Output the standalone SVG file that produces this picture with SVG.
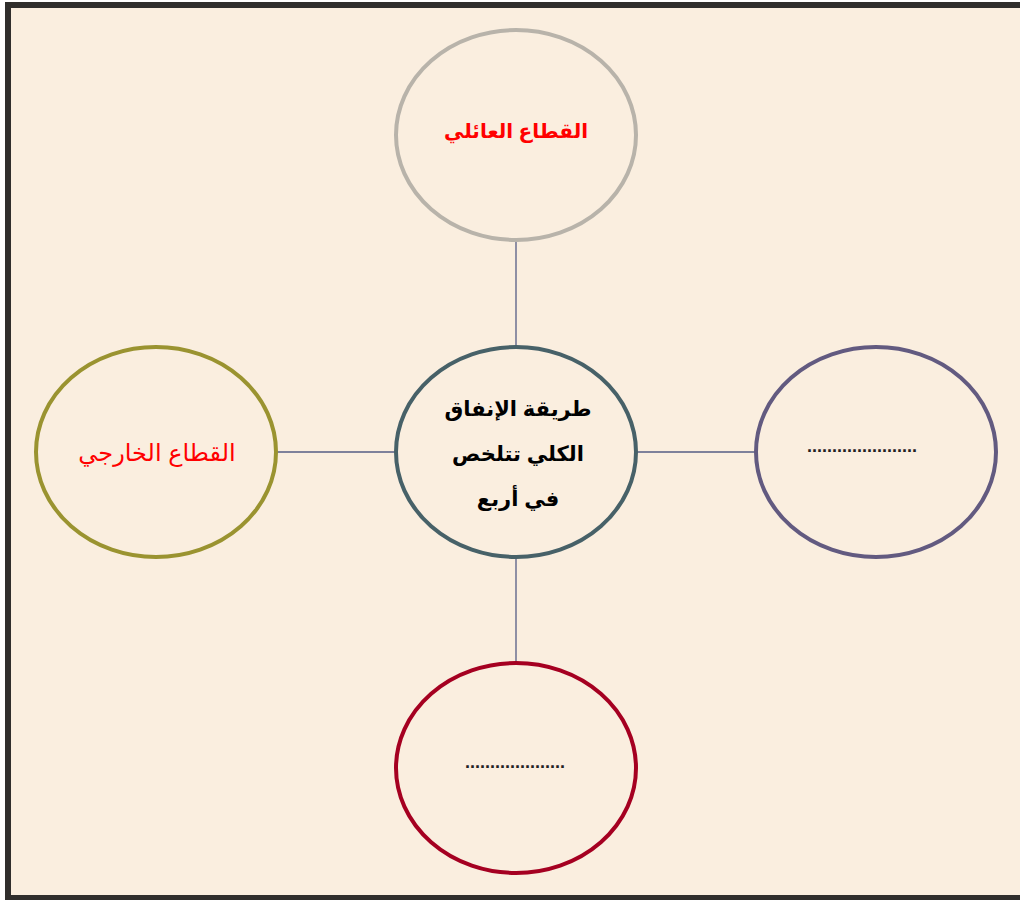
<svg xmlns="http://www.w3.org/2000/svg" width="1020" height="900" viewBox="0 0 1020 900">
<style>
.n{fill:none;stroke-width:4}
.c{stroke:#555C85;stroke-width:1.3;fill:none}
text{font-family:"Liberation Sans","DejaVu Sans",Arial,sans-serif;text-anchor:middle}
.red{fill:#FF0000;font-size:20px}
.dots{fill:#222;font-size:18px;font-weight:bold}
.ctr{fill:#000;font-size:21px;font-weight:bold}
</style>
<rect x="0" y="0" width="1020" height="900" fill="#FFFFFF"/>
<rect x="8" y="5" width="1030" height="893" fill="#FAEEDF" stroke="#302E2C" stroke-width="6"/>
<g id="connectors">
<line class="c" x1="516" y1="242" x2="516" y2="347"/>
<line class="c" x1="277" y1="452" x2="396" y2="452"/>
<line class="c" x1="637" y1="452" x2="756" y2="452"/>
<line class="c" x1="516" y1="557" x2="516" y2="663"/>
</g>
<g id="top">
<ellipse class="n" cx="516" cy="135" rx="120" ry="105" stroke="#B8B3AA"/>
<text class="red" x="516" y="138" font-weight="bold" direction="rtl" unicode-bidi="embed">القطاع العائلي</text>
</g>
<g id="left">
<ellipse class="n" cx="156" cy="452" rx="120" ry="105" stroke="#9A9330"/>
<text class="red" x="157" y="461" style="font-size:24px" direction="rtl" unicode-bidi="embed">القطاع الخارجي</text>
</g>
<g id="center">
<ellipse class="n" cx="516" cy="452" rx="120" ry="105" stroke="#476168"/>
<text class="ctr" x="518" y="416" direction="rtl" unicode-bidi="embed">طريقة الإنفاق</text>
<text class="ctr" x="518" y="461" direction="rtl" unicode-bidi="embed">الكلي تتلخص</text>
<text class="ctr" x="518" y="506" direction="rtl" unicode-bidi="embed">في أربع</text>
</g>
<g id="right">
<ellipse class="n" cx="876" cy="452" rx="120" ry="105" stroke="#625A80"/>
<text class="dots" x="862" y="452">......................</text>
</g>
<g id="bottom">
<ellipse class="n" cx="516" cy="768" rx="120" ry="105" stroke="#A50021"/>
<text class="dots" x="515" y="768">....................</text>
</g>
</svg>
